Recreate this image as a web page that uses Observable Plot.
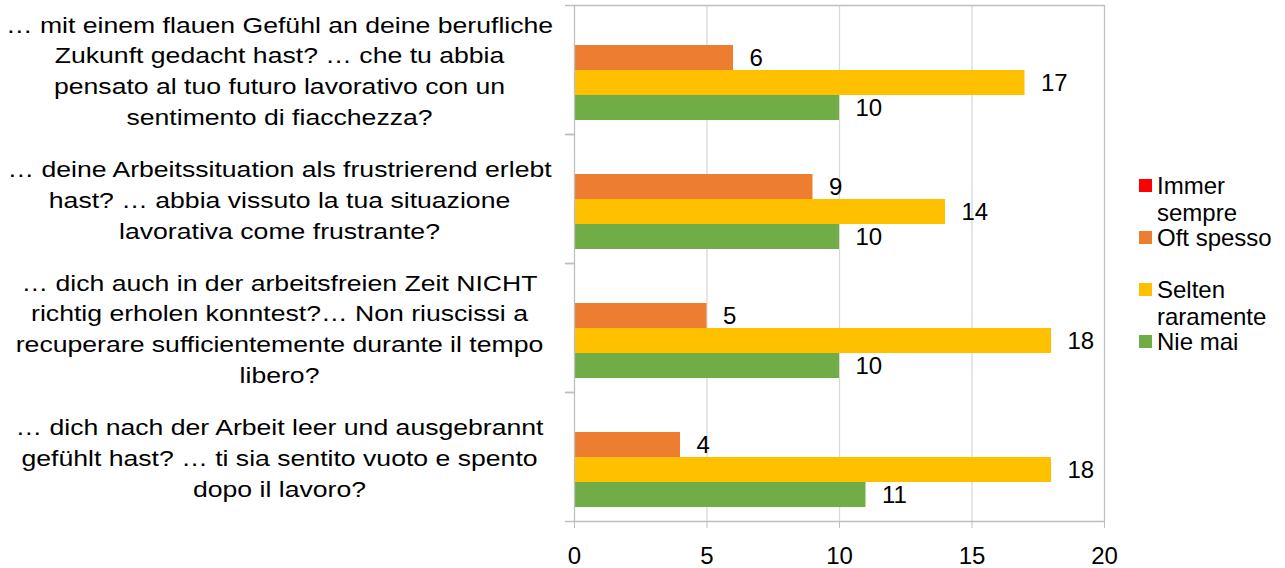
<!DOCTYPE html>
<html><head><meta charset="utf-8">
<script src="https://cdn.jsdelivr.net/npm/d3@7"></script>
<script src="https://cdn.jsdelivr.net/npm/@observablehq/plot@0.6"></script>
<style>
body{margin:0;background:#fff;}
#wrap{position:relative;width:1285px;height:568px;font-family:Arial,"Liberation Sans",sans-serif;}
.leg{position:absolute;left:1139px;}
.sw{position:absolute;left:0;top:0;width:13px;height:13px;}
.lt{position:absolute;left:18px;top:-7px;width:125px;font-size:24px;line-height:27px;color:#000;white-space:normal;}
</style></head><body><div id="wrap"></div>
<script>
const categories = [
  "… mit einem flauen Gefühl an deine berufliche\nZukunft gedacht hast? … che tu abbia\npensato al tuo futuro lavorativo con un\nsentimento di fiacchezza?",
  "… deine Arbeitssituation als frustrierend erlebt\nhast? … abbia vissuto la tua situazione\nlavorativa come frustrante?",
  "… dich auch in der arbeitsfreien Zeit NICHT\nrichtig erholen konntest?… Non riuscissi a\nrecuperare sufficientemente durante il tempo\nlibero?",
  "… dich nach der Arbeit leer und ausgebrannt\ngefühlt hast? … ti sia sentito vuoto e spento\ndopo il lavoro?"
];
const series = ["Immer sempre", "Oft spesso", "Selten raramente", "Nie mai"];
const immerSempre = [0, 0, 0, 0];
const oftSpesso = [6, 9, 5, 4];
const seltenRaramente = [17, 14, 18, 18];
const nieMai = [10, 10, 10, 11];
const colors = ["#FF0000", "#ED7D31", "#FFC000", "#70AD47"];
const xTicks = [0, 5, 10, 15, 20];

const valuesBySeries = [immerSempre, oftSpesso, seltenRaramente, nieMai];
const data = [];
categories.forEach((cat, i) => {
  series.forEach((s, j) => data.push({cat, series: s, value: valuesBySeries[j][i]}));
});

const axisGray = "#bfbfbf";
const gridGray = "#d9d9d9";
const tickShape = {draw(context, l) { context.moveTo(0, 0); context.lineTo(0, -l); }};

const plot = Plot.plot({
  width: 1285,
  height: 568,
  marginLeft: 574,
  marginRight: 181,
  marginTop: 4,
  marginBottom: 46,
  style: {fontFamily: "Arial, 'Liberation Sans', sans-serif", fontSize: "24px", color: "#000", background: "#fff"},
  fy: {domain: categories, padding: 0, axis: null},
  y: {domain: series, paddingInner: 0, paddingOuter: 0.5, axis: null},
  x: {domain: [0, 20]},
  color: {domain: series, range: colors},
  marks: [
    Plot.gridX(xTicks.slice(1, -1), {stroke: gridGray, strokeOpacity: 1, strokeWidth: 1.3}),
    Plot.ruleX([20], {stroke: axisGray, strokeWidth: 1.3}),
    Plot.frame({anchor: "top", facetAnchor: "top", stroke: axisGray, strokeWidth: 1.3}),
    Plot.barX(data, {fy: "cat", y: "series", x: "value", fill: "series"}),
    Plot.text(data.filter(d => d.value > 0), {fy: "cat", y: "series", x: "value", text: d => String(d.value), textAnchor: "start", dx: 16, fontSize: 24, fill: "#000"}),
    Plot.ruleX([0], {stroke: axisGray, strokeWidth: 1.3}),
    Plot.frame({anchor: "bottom", facetAnchor: "bottom", stroke: axisGray, strokeWidth: 1.3}),
    Plot.vector(categories, {fy: d => d, frameAnchor: "top-left", length: 9, rotate: -90, anchor: "start", shape: tickShape, stroke: axisGray, strokeWidth: 1.3}),
    Plot.vector(categories, {fy: d => d, frameAnchor: "bottom-left", length: 9, rotate: -90, anchor: "start", shape: tickShape, stroke: axisGray, strokeWidth: 1.3}),
    Plot.axisX({ticks: xTicks, tickSize: 7, tickPadding: 18, fontSize: 24, stroke: axisGray, fill: "#000", label: null}),
    Plot.text(categories, {fy: d => d, text: d => d, frameAnchor: "left", dx: -295, dy: -1, textAnchor: "middle", lineAnchor: "middle", lineHeight: 1.4, fontSize: 22, fill: "#000"})
  ]
});

// widen the category label glyphs horizontally, as in the reference
const flatLabels = new Set(categories.map(c => c.replace(/\n/g, "")));
d3.select(plot).selectAll("text").each(function() {
  if (!flatLabels.has(this.textContent)) return;
  const t = this.getAttribute("transform") || "";
  const x = this.getAttribute("x");
  if (x !== null && !t) {
    const y = this.getAttribute("y") || 0;
    this.setAttribute("transform", `translate(${x},${y}) scale(1.21,1) translate(${-x},${-y})`);
  } else {
    this.setAttribute("transform", t + " scale(1.21,1)");
  }
});

const wrap = document.getElementById("wrap");
wrap.appendChild(plot);

const color = plot.scale("color");
const legendTops = [179, 231, 283, 335];
series.forEach((s, i) => {
  const item = document.createElement("div");
  item.className = "leg";
  item.style.top = legendTops[i] + "px";
  const sw = document.createElement("div");
  sw.className = "sw";
  sw.style.background = color.apply(s);
  const lt = document.createElement("div");
  lt.className = "lt";
  lt.textContent = s;
  item.appendChild(sw);
  item.appendChild(lt);
  wrap.appendChild(item);
});
</script></body></html>
